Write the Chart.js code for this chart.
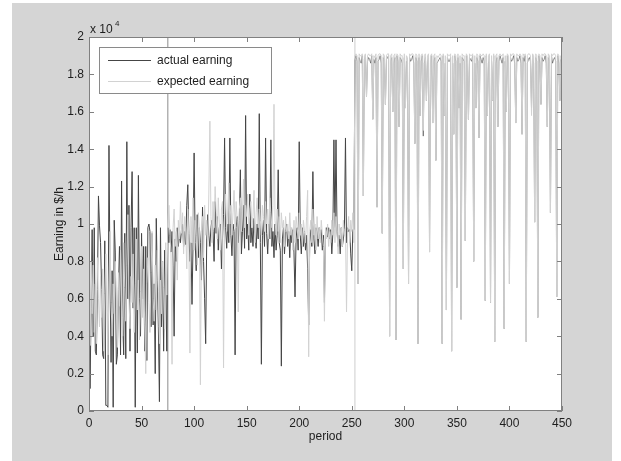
<!DOCTYPE html>
<html>
<head>
<meta charset="utf-8">
<script src="https://cdn.jsdelivr.net/npm/chart.js@4"></script>
<style>
  html, body { margin: 0; padding: 0; background: #ffffff; }
  #wrap { width: 621px; height: 461px; }
</style>
</head>
<body>
<div id="wrap"><canvas id="earningChart" width="621" height="461"></canvas></div>
<script>
// Earning per period ($/h) in three stretches
const actualA = [
  9300, 1200, 5500, 9700, 4000, 9800, 3200, 3000, 6500, 11500,
  9900, 9000, 6500, 3000, 2800, 9100, 300, 300, 200, 14200,
  7000, 2600, 7500, 200, 10200, 8500, 2500, 3000, 6500, 8800,
  3000, 12300, 5000, 3000, 9500, 2800, 14400, 6000, 11000, 3200,
  9800, 12800, 5500, 9800, 200, 9800, 3100, 12600, 6000, 4000,
  9500, 6000, 8800, 3200, 8800, 2700, 9800, 10000, 9600, 4500,
  9500, 4600, 6800, 2000, 10300, 7000, 4500, 500, 9800, 4500,
  8000, 3200, 8600, 7000, 3200
];
const actualB = [
  9800, 9000, 9700, 8500, 9600, 7800, 4000, 9200, 8000, 9800,
  8800, 9500, 9000, 9700, 10000, 8800, 9600, 8900, 11000, 12100,
  9500, 8000, 9000, 5700, 9000, 13800, 9000, 7500, 10500, 8200,
  9800, 9000, 7000, 10900, 8000, 6000, 3600, 9200, 10500, 9400,
  8800, 9800, 10200, 9600, 8000, 11200, 9500, 10400, 8600, 9800,
  10000, 7600, 9200, 10500, 14600, 9800, 8700, 10000, 9000, 14600,
  9400, 8300, 10000, 9600, 3000, 9800, 10400, 9000, 10200, 12900,
  8400, 9600, 11000, 8700, 15800, 9200, 10000, 8600, 11600, 9000,
  9800, 8800, 10300, 9500, 8700, 10000, 9200, 15900, 9000, 2500,
  9400, 10200, 8800, 14600, 9500, 8400, 10000, 9200, 14500, 8800,
  9600, 8200, 10000, 8600, 9400, 12900, 9000, 8600, 2400, 9200,
  9800, 8400, 9600, 10000, 8800, 9600, 8200, 9800, 9000, 9700,
  8500, 6100, 9200, 9800, 8600, 14400, 9400, 8400, 9800, 8800,
  9600, 8600, 9400, 7600, 4600, 9000, 9700, 8800, 12800, 9200,
  8400, 9800, 9600, 8800, 9800, 9200, 9700, 8600, 9400, 5800,
  9600, 9800, 9300, 9800, 9200, 9700, 8400, 9500, 14500, 9800,
  14500, 9600, 8800, 9400, 8400, 9800, 8800, 9200, 9700, 14600,
  9000, 9800, 9600, 9700, 8400, 7500, 9700, 9700
];
const actualC = [
  18800, 19000, 18700, 6800, 18900, 18700, 18600, 19000, 11500, 18800,
  19000, 16800, 18700, 18900, 18800, 18600, 19000, 15600, 18800, 18600,
  18900, 10900, 18700, 18800, 19000, 18600, 9500, 18900, 18700, 16400,
  18800, 18900, 19000, 4000, 18700, 18900, 16000, 18600, 18900, 3800,
  19000, 18700, 15200, 18900, 18800, 18600, 7600, 18900, 16200, 18700,
  18600, 6800, 18900, 18700, 18800, 19000, 18600, 14300, 18900, 18700,
  3600, 18900, 15800, 18700, 19000, 14700, 18600, 18900, 16600, 18700,
  18900, 8500, 18600, 19000, 15400, 18700, 18900, 13400, 18600, 18700,
  18800, 18900, 18700, 3600, 19000, 15800, 18600, 5400, 18900, 18700,
  18700, 18900, 3200, 18600, 14800, 19000, 18700, 6600, 18900, 16200,
  18600, 4900, 18900, 18800, 18700, 9100, 19000, 18600, 15600, 18900,
  18800, 18700, 19000, 8000, 18600, 16200, 18900, 18700, 14600, 19000,
  18800, 18600, 18900, 18700, 5900, 19000, 15800, 18600, 18900, 5800,
  18700, 16600, 19000, 3700, 18600, 18900, 15200, 18700, 19000, 18800,
  18600, 18900, 4400, 18700, 16000, 19000, 18600, 6800, 18900, 18700,
  18800, 19000, 18600, 15400, 18900, 18700, 18800, 19000, 18600, 14800,
  18900, 18700, 19000, 3700, 18600, 18800, 18900, 18700, 16200, 19000,
  18600, 10100, 18900, 18700, 5000, 19000, 18600, 16400, 18900, 18700,
  18800, 19000, 18600, 15200, 18900, 18700, 10600, 19000, 18600, 18800,
  18900, 18700, 6100, 19000, 18600, 16600, 18800, 18400
];

const expectedA = [
  6500, 3500, 8000, 5200, 7800, 4200, 6800, 3600, 8200, 6000,
  4500, 7200, 5000, 7600, 3200, 6300, 8400, 5400, 3000, 7000,
  9600, 5800, 4000, 6800, 5200, 8000, 6000, 3400, 7400, 5600,
  8600, 6200, 4000, 9000, 6600, 4800, 7800, 10500, 6000, 4400,
  7200, 5800, 8400, 4200, 6800, 9200, 5400, 7000, 3800, 6400,
  8800, 5000, 7600, 4600, 2000, 6800, 8200, 5800, 4200, 7400,
  9600, 6000, 4800, 7800, 5400, 8600, 6400, 3600, 7000, 5200,
  8000, 6600, 4400, 9000, 6200
];
const expectedB = [
  10000, 11000, 9400, 8400, 2500, 9800, 10800, 8800, 9600, 7000,
  10200, 9200, 11200, 9500, 10600, 8400, 10400, 9800, 7600, 10800,
  9200, 3100, 10400, 9000, 11400, 8600, 10200, 9400, 7800, 10600,
  9800, 1400, 9600, 10400, 8200, 11000, 9400, 10200, 8800, 11600,
  15500, 10400, 9000, 11200, 9800, 12000, 10600, 9200, 11400, 10000,
  8600, 10800, 11200, 2300, 10400, 11600, 9600, 10800, 12200, 10000,
  11000, 9400, 10600, 11800, 9800, 11200, 10200, 5300, 10800, 11400,
  9600, 10600, 12400, 9800, 11000, 10400, 11600, 9400, 10800, 11200,
  9800, 10400, 11800, 9000, 10600, 11400, 9800, 10800, 10200, 9400,
  11000, 10400, 9600, 11200, 10000, 10800, 9200, 11400, 10600, 9800,
  11000, 16400, 10200, 9400, 10800, 9600, 10400, 9000, 10600, 9800,
  10200, 8800, 10400, 9600, 10000, 9200, 10600, 9400, 9800, 8600,
  10200, 9000, 10400, 9800, 9200, 10600, 9400, 10000, 8800, 10200,
  9600, 9000, 10400, 11800, 2900, 9600, 10200, 9000, 10800, 9400,
  10000, 8600, 10400, 9200, 9800, 9000, 10200, 9400, 8800, 4800,
  9800, 9200, 10000, 8800, 9600, 9000, 10200, 9400, 10600, 9000,
  10400, 9600, 8400, 10000, 9200, 9800, 8800, 10200, 9400, 9800,
  5300, 9600, 10400, 9000, 10200, 9600, 10600, 9000
];
const expectedC = [
  19000, 19100, 19000, 6800, 19100, 19000, 19000, 19100, 11500, 19000,
  19100, 16800, 19000, 19100, 19000, 19000, 19100, 15600, 19000, 18900,
  19100, 10900, 19000, 19100, 19100, 19000, 9500, 19100, 19000, 16400,
  19000, 19100, 19100, 4000, 19000, 19100, 16000, 19000, 19100, 3800,
  19100, 19000, 15200, 19100, 19000, 19000, 7600, 19100, 16200, 19000,
  18900, 6800, 19100, 19000, 19100, 19100, 19000, 14300, 19100, 19000,
  3600, 19100, 15800, 19000, 19100, 15000, 19000, 19100, 16600, 19000,
  19100, 8500, 19000, 19100, 15400, 19000, 19100, 13400, 19000, 18900,
  19000, 19100, 19000, 3600, 19100, 15800, 19000, 5400, 19100, 19000,
  19000, 19100, 3200, 19000, 14800, 19100, 19000, 6600, 19100, 16200,
  19000, 4900, 19100, 19000, 19000, 9100, 19100, 19000, 15600, 19100,
  19000, 19000, 19100, 8000, 19000, 16200, 19100, 19000, 14600, 19100,
  19000, 19000, 19100, 19000, 5900, 19100, 15800, 19000, 19100, 5800,
  19000, 16600, 19100, 3700, 19000, 19100, 15200, 19000, 19100, 19000,
  19000, 19100, 4400, 19000, 16000, 19100, 19000, 6800, 19100, 19000,
  19100, 19100, 19000, 15400, 19100, 19000, 19000, 19100, 19000, 14800,
  19100, 19000, 19100, 3700, 19000, 19100, 19100, 19000, 15800, 19100,
  19000, 10100, 19100, 19000, 5000, 19100, 19000, 16400, 19100, 19000,
  19100, 19100, 19000, 15200, 19100, 19000, 10600, 19100, 19000, 19100,
  19100, 19000, 6100, 19100, 19000, 16600, 19000, 18400
];

const actualEarning = actualA.concat(actualB, actualC);
const expectedEarning = expectedA.concat(expectedB, expectedC);

// regime change markers (period)
const markerPeriods = [75, 253];
const markerColors = ['#8c8c8c', '#cdcdcd'];

const xTicks = [0, 50, 100, 150, 200, 250, 300, 350, 400, 450];
const yTicks = [0, 2000, 4000, 6000, 8000, 10000, 12000, 14000, 16000, 18000, 20000];

const seriesLabels = ['actual earning', 'expected earning'];
const seriesColors = ['#454545', '#d2d2d2'];

const FONT = '"Liberation Sans", Arial, sans-serif';

function toPoints(values) {
  return values.map((v, i) => ({ x: i, y: v }));
}

// MATLAB-style frame: grey figure, inward ticks on four sides, legend box, x 10^4
const matlabFrame = {
  id: 'matlabFrame',
  beforeDraw(chart) {
    const c = chart.ctx;
    const a = chart.chartArea;
    c.save();
    c.fillStyle = '#ffffff';
    c.fillRect(0, 0, chart.width, chart.height);
    c.fillStyle = '#d5d5d5';
    c.fillRect(12, 3, 600, 458);
    c.fillStyle = '#ffffff';
    c.fillRect(a.left, a.top, a.right - a.left, a.bottom - a.top);
    c.restore();
  },
  afterDraw(chart) {
    const c = chart.ctx;
    const a = chart.chartArea;
    const xs = chart.scales.x;
    const ys = chart.scales.y;
    c.save();
    c.strokeStyle = '#808080';
    c.lineWidth = 1;
    c.strokeRect(Math.round(a.left) + 0.5, Math.round(a.top) + 0.5,
      Math.round(a.right - a.left) - 1, Math.round(a.bottom - a.top) - 1);

    // ticks pointing inward
    const tl = 5;
    c.beginPath();
    xTicks.forEach(t => {
      const px = Math.round(xs.getPixelForValue(t)) + 0.5;
      c.moveTo(px, a.bottom); c.lineTo(px, a.bottom - tl);
      c.moveTo(px, a.top); c.lineTo(px, a.top + tl);
    });
    yTicks.forEach(t => {
      const py = Math.round(ys.getPixelForValue(t)) + 0.5;
      c.moveTo(a.left, py); c.lineTo(a.left + tl, py);
      c.moveTo(a.right, py); c.lineTo(a.right - tl, py);
    });
    c.stroke();

    // legend
    const lx = 99.5, ly = 47.5, lw = 172, lh = 46;
    c.fillStyle = '#ffffff';
    c.fillRect(lx, ly, lw, lh);
    c.strokeStyle = '#8a8a8a';
    c.strokeRect(lx, ly, lw, lh);
    c.font = '12px ' + FONT;
    c.textBaseline = 'middle';
    c.textAlign = 'left';
    seriesLabels.forEach((lab, i) => {
      const yy = 60.5 + i * 21;
      c.strokeStyle = seriesColors[i];
      c.beginPath();
      c.moveTo(108, yy); c.lineTo(151, yy);
      c.stroke();
      c.fillStyle = '#1e1e1e';
      c.fillText(lab, 157, yy);
    });

    // exponent label
    c.fillStyle = '#1e1e1e';
    c.font = '12px ' + FONT;
    c.textBaseline = 'alphabetic';
    c.fillText('x 10', 90, 33);
    c.font = '8px ' + FONT;
    c.fillText('4', 115, 26);
    c.restore();
  }
};

const datasets = [
  {
    label: seriesLabels[0],
    data: toPoints(actualEarning),
    borderColor: seriesColors[0],
    borderWidth: 1,
    pointRadius: 0,
    tension: 0,
    order: 2,
    // after the switch the actual line mostly hides under the expected one
    segment: {
      borderWidth: ctx => (ctx.p0.parsed.x >= markerPeriods[1] ? 0.6 : 1)
    }
  },
  {
    label: seriesLabels[1],
    data: toPoints(expectedEarning),
    borderColor: seriesColors[1],
    borderWidth: 1,
    pointRadius: 0,
    tension: 0,
    order: 1
  }
];
markerPeriods.forEach((p, i) => {
  datasets.push({
    label: 'marker' + i,
    data: [{ x: p, y: 0 }, { x: p, y: 20000 }],
    borderColor: markerColors[i],
    borderWidth: 1,
    pointRadius: 0,
    order: 3
  });
});

new Chart(document.getElementById('earningChart'), {
  type: 'line',
  data: { datasets: datasets },
  options: {
    responsive: false,
    animation: false,
    devicePixelRatio: 1,
    layout: { padding: { top: 37, right: 59, left: 48, bottom: 13 } },
    plugins: {
      legend: { display: false },
      tooltip: { enabled: false }
    },
    scales: {
      x: {
        type: 'linear',
        min: 0,
        max: 450,
        afterFit(s) { s.height = 37; },
        afterBuildTicks(s) { s.ticks = xTicks.map(v => ({ value: v })); },
        grid: { display: false, drawTicks: false },
        border: { display: false },
        ticks: {
          color: '#1e1e1e',
          font: { family: FONT, size: 12 },
          padding: 5,
          maxRotation: 0
        },
        title: {
          display: true,
          text: 'period',
          color: '#1e1e1e',
          font: { family: FONT, size: 12 },
          padding: { top: 4, bottom: 4 }
        }
      },
      y: {
        type: 'linear',
        min: 0,
        max: 20000,
        afterFit(s) { s.width = 41; },
        afterBuildTicks(s) { s.ticks = yTicks.map(v => ({ value: v })); },
        grid: { display: false, drawTicks: false },
        border: { display: false },
        ticks: {
          color: '#1e1e1e',
          font: { family: FONT, size: 12 },
          padding: 5,
          callback: v => String(parseFloat((v / 10000).toFixed(1)))
        },
        title: {
          display: true,
          text: 'Earning in $/h',
          color: '#1e1e1e',
          font: { family: FONT, size: 12 },
          padding: { top: 4, bottom: 4 }
        }
      }
    }
  },
  plugins: [matlabFrame]
});
</script>
</body>
</html>
